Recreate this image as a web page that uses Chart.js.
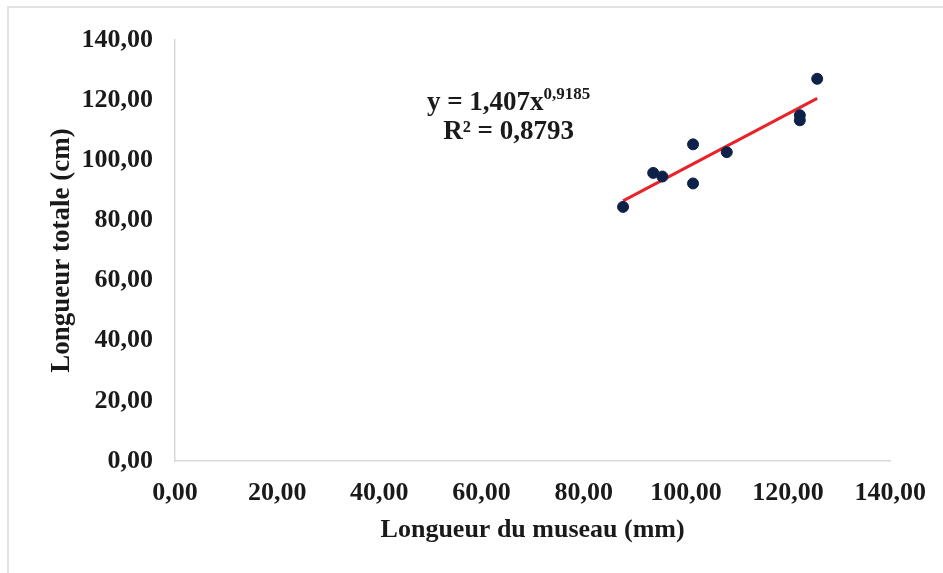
<!DOCTYPE html>
<html>
<head>
<meta charset="utf-8">
<script src="https://cdn.jsdelivr.net/npm/chart.js@4.4.0/dist/chart.umd.min.js"></script>
<style>
  html, body { margin: 0; padding: 0; background: #fff; }
  #wrap { position: relative; width: 943px; height: 573px; }
  #frame { position: absolute; left: 7px; top: 6px; right: 0; bottom: 0;
           border-left: 2px solid #e2e2e2; border-top: 2px solid #e2e2e2; pointer-events: none; }
  canvas { position: absolute; left: 0; top: 0; }
</style>
</head>
<body>
<div id="wrap">
  <canvas id="c" width="943" height="573"></canvas>
  <div id="frame"></div>
</div>
<script>
// Data
const museauMm = [87.7, 93.6, 95.4, 101.4, 101.4, 108.0, 122.3, 122.3, 125.7];
const longueurCm = [84.5, 95.8, 94.6, 105.3, 92.3, 102.7, 115.0, 113.3, 127.1];
// Trend line end points
const trendX = [87.7, 125.7];
const trendY = [86.5, 120.6];
const tickValues = [0, 20, 40, 60, 80, 100, 120, 140];
const equationLine1 = 'y = 1,407x';
const equationExp = '0,9185';
const equationLine2 = 'R² = 0,8793';
const xTitle = 'Longueur du museau (mm)';
const yTitle = 'Longueur totale (cm)';

const FONT = '"Liberation Serif", "Times New Roman", serif';
const fmt = v => v.toFixed(2).replace('.', ',');

const points = museauMm.map((x, i) => ({ x, y: longueurCm[i] }));
const trend = trendX.map((x, i) => ({ x, y: trendY[i] }));

const eqPlugin = {
  id: 'eq',
  afterDatasetsDraw(chart) {
    const { ctx, scales } = chart;
    const cx = scales.x.getPixelForValue(65.3);
    const y1 = scales.y.getPixelForValue(119.0);
    const y2 = scales.y.getPixelForValue(109.3);
    ctx.save();
    ctx.fillStyle = '#1a1a1a';
    ctx.textBaseline = 'middle';
    ctx.font = 'bold 27px ' + FONT;
    const w1 = ctx.measureText(equationLine1).width;
    ctx.font = 'bold 17px ' + FONT;
    const we = ctx.measureText(equationExp).width;
    const start = cx - (w1 + we) / 2;
    ctx.textAlign = 'left';
    ctx.font = 'bold 27px ' + FONT;
    ctx.fillText(equationLine1, start, y1);
    ctx.font = 'bold 17px ' + FONT;
    ctx.fillText(equationExp, start + w1, y1 - 9);
    ctx.font = 'bold 27px ' + FONT;
    ctx.textAlign = 'center';
    ctx.fillText(equationLine2, cx, y2);
    ctx.restore();
  }
};

new Chart(document.getElementById('c'), {
  type: 'scatter',
  data: {
    datasets: [
      {
        label: 'trend',
        type: 'line',
        data: trend,
        borderColor: '#e8242a',
        borderWidth: 3,
        pointRadius: 0,
        fill: false,
        order: 2
      },
      {
        label: 'points',
        data: points,
        backgroundColor: '#0e2148',
        borderColor: '#0e2148',
        pointRadius: 5.5,
        order: 1
      }
    ]
  },
  options: {
    responsive: false,
    animation: false,
    layout: { padding: { left: 0, top: 40, right: 51, bottom: 0 } },
    plugins: { legend: { display: false }, tooltip: { enabled: false } },
    scales: {
      x: {
        type: 'linear', min: 0, max: 140,
        afterBuildTicks: s => { s.ticks = tickValues.map(v => ({ value: v })); },
        afterFit: s => { s.height = 112; },
        grid: { display: false, drawTicks: false },
        border: { display: true, color: '#d9d9d9', width: 1.5 },
        ticks: { color: '#1a1a1a', padding: 17, maxRotation: 0, autoSkip: false,
                 font: { family: FONT, size: 26, weight: 'bold' }, callback: v => fmt(v) },
        title: { display: true, text: xTitle, color: '#1a1a1a',
                 font: { family: FONT, size: 26, weight: 'bold' }, padding: { top: 0, bottom: 27 } }
      },
      y: {
        type: 'linear', min: 0, max: 140,
        afterBuildTicks: s => { s.ticks = tickValues.map(v => ({ value: v })); },
        afterFit: s => { s.width = 175; },
        grid: { display: false, drawTicks: false },
        border: { display: true, color: '#d9d9d9', width: 1.5 },
        ticks: { color: '#1a1a1a', padding: 22, autoSkip: false,
                 font: { family: FONT, size: 26, weight: 'bold' }, callback: v => fmt(v) },
        title: { display: true, text: yTitle, color: '#1a1a1a',
                 font: { family: FONT, size: 27, weight: 'bold' }, padding: { top: 46, bottom: 0 } }
      }
    }
  },
  plugins: [eqPlugin]
});
</script>
</body>
</html>
